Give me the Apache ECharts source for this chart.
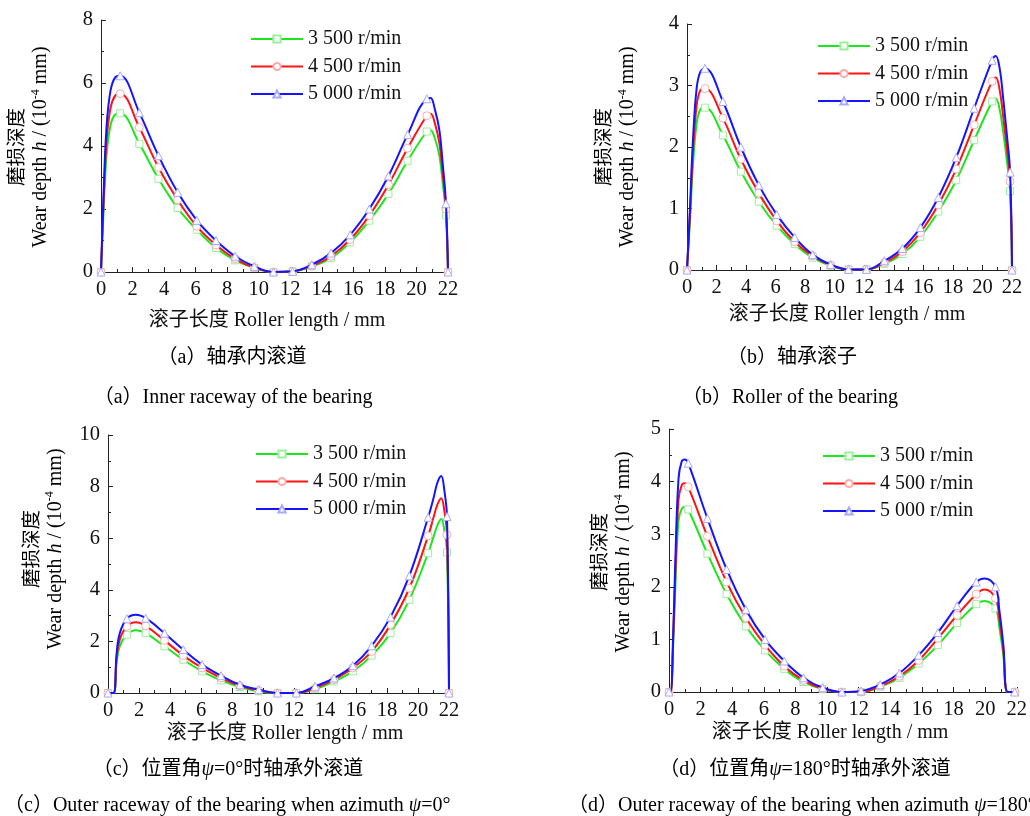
<!DOCTYPE html>
<html>
<head>
<meta charset="utf-8">
<script src="https://cdn.jsdelivr.net/npm/echarts@6/dist/echarts.min.js"></script>
<style>html,body{margin:0;padding:0;background:#fff;}#c{width:1030px;height:816px;}</style>
</head>
<body>
<div id="c"></div>
<script>
// ---- data ----
const seriesNames = ['3 500 r/min', '4 500 r/min', '5 000 r/min'];
const markerX = [0, 1.215, 2.43, 3.645, 4.86, 6.075, 7.29, 8.505, 9.72, 10.935, 12.15, 13.365, 14.58, 15.795, 17.01, 18.225, 19.44, 20.655, 21.87, 22];
const xTicks = [0, 2, 4, 6, 8, 10, 12, 14, 16, 18, 20, 22];

// (a) inner raceway
const xA = [0, 0.15, 0.35, 0.6, 0.9, 1.215, 2.43, 3.645, 4.86, 6.075, 7.29, 8.505, 9.72, 10.935, 12.15, 13.365, 14.58, 15.795, 17.01, 18.225, 19.44, 20.655, 20.9, 21.15, 21.45, 21.66, 21.87, 22];
const a3500 = [0, 1.8, 3.7, 4.65, 5.0, 5.04, 4.07, 2.96, 2.03, 1.34, 0.76, 0.37, 0.13, 0, 0.02, 0.18, 0.44, 0.94, 1.63, 2.48, 3.53, 4.46, 4.5, 4.27, 3.7, 2.85, 1.8, 0];
const a4500 = [0, 2.05, 4.15, 5.2, 5.6, 5.66, 4.59, 3.32, 2.29, 1.45, 0.86, 0.42, 0.14, 0, 0.02, 0.19, 0.5, 1.03, 1.79, 2.77, 3.93, 4.96, 5.02, 4.75, 4.1, 3.15, 2.0, 0];
const a5000 = [0, 2.3, 4.6, 5.75, 6.18, 6.23, 5.06, 3.69, 2.53, 1.64, 1.0, 0.5, 0.18, 0, 0.02, 0.23, 0.6, 1.18, 2.0, 3.05, 4.36, 5.5, 5.52, 5.2, 4.51, 3.46, 2.17, 0];

// (b) roller
const xB = [0, 0.2, 0.4, 0.65, 0.9, 1.215, 2.43, 3.645, 4.86, 6.075, 7.29, 8.505, 9.72, 10.935, 12.15, 13.365, 14.58, 15.795, 17.01, 18.225, 19.44, 20.655, 20.9, 21.15, 21.4, 21.65, 21.87, 22];
const b3500 = [0, 0.8, 1.7, 2.38, 2.61, 2.64, 2.19, 1.6, 1.11, 0.72, 0.42, 0.2, 0.07, 0.01, 0.01, 0.1, 0.26, 0.54, 0.95, 1.46, 2.11, 2.74, 2.79, 2.63, 2.25, 1.78, 1.28, 0];
const b4500 = [0, 0.9, 1.9, 2.67, 2.92, 2.95, 2.47, 1.8, 1.25, 0.8, 0.46, 0.23, 0.08, 0.01, 0.01, 0.12, 0.3, 0.61, 1.06, 1.64, 2.36, 3.07, 3.13, 2.95, 2.5, 1.98, 1.44, 0];
const b5000 = [0, 1.0, 2.1, 2.95, 3.22, 3.28, 2.74, 2.0, 1.38, 0.9, 0.53, 0.25, 0.09, 0.01, 0.01, 0.15, 0.35, 0.69, 1.18, 1.83, 2.63, 3.41, 3.48, 3.3, 2.8, 2.2, 1.59, 0];

// (c) outer raceway, psi = 0
const xC = [0, 0.35, 0.55, 0.75, 1.215, 1.8, 2.43, 3.645, 4.86, 6.075, 7.29, 8.505, 9.72, 10.935, 12.15, 13.365, 14.58, 15.795, 17.01, 18.225, 19.44, 20.655, 21.0, 21.25, 21.5, 21.7, 21.87, 22];
const c3500 = [0, 0, 1.15, 1.8, 2.26, 2.43, 2.32, 1.81, 1.29, 0.84, 0.49, 0.23, 0.06, 0, 0, 0.15, 0.45, 0.84, 1.45, 2.32, 3.61, 5.42, 6.05, 6.5, 6.74, 6.3, 5.45, 0];
const c4500 = [0, 0, 1.3, 2.05, 2.58, 2.74, 2.6, 2.04, 1.45, 0.97, 0.58, 0.28, 0.1, 0, 0, 0.19, 0.52, 0.97, 1.61, 2.65, 4.06, 6.09, 6.8, 7.3, 7.55, 7.05, 6.13, 0];
const c5000 = [0, 0, 1.5, 2.3, 2.88, 3.03, 2.9, 2.32, 1.68, 1.1, 0.67, 0.32, 0.13, 0, 0, 0.26, 0.58, 1.06, 1.83, 2.94, 4.54, 6.81, 7.55, 8.15, 8.41, 7.85, 6.84, 0];

// (d) outer raceway, psi = 180
const xD = [0, 0.1, 0.27, 0.4, 0.6, 0.8, 1.0, 1.215, 2.43, 3.645, 4.86, 6.075, 7.29, 8.505, 9.72, 10.935, 12.15, 13.365, 14.58, 15.795, 17.01, 18.225, 19.44, 19.95, 20.655, 20.9, 21.15, 21.43, 21.87];
const d3500 = [0, 0, 0.93, 2.0, 3.25, 3.48, 3.52, 3.47, 2.63, 1.86, 1.25, 0.79, 0.44, 0.19, 0.06, 0, 0, 0.1, 0.27, 0.54, 0.89, 1.31, 1.67, 1.73, 1.59, 1.22, 0.7, 0, 0];
const d4500 = [0, 0, 1.05, 2.25, 3.65, 3.93, 3.97, 3.9, 2.96, 2.09, 1.41, 0.89, 0.49, 0.22, 0.06, 0, 0, 0.11, 0.3, 0.6, 1.02, 1.46, 1.86, 1.95, 1.78, 1.38, 0.8, 0, 0];
const d5000 = [0, 0, 1.15, 2.5, 4.05, 4.38, 4.42, 4.35, 3.3, 2.33, 1.57, 1.0, 0.59, 0.27, 0.08, 0, 0.02, 0.14, 0.36, 0.7, 1.13, 1.64, 2.09, 2.16, 2.0, 1.55, 0.9, 0, 0];

const yMaxes = [8, 4, 10, 5];
const yIntervals = [2, 1, 2, 1];

// ---- styles ----
const FONT = "'Liberation Serif', 'Times New Roman', 'Noto Sans CJK SC', serif";
const lineColors = ['#1ee61e', '#ff1414', '#1414ff'];
const markColors = ['#9cef9c', '#ffaaaa', '#a8a8ff'];
const symbols = ['rect', 'circle', 'triangle'];
const symSizes = [7, 8, 8];

const grids = [
  {left: 101, top: 20, width: 347, height: 252},
  {left: 687, top: 24, width: 325, height: 246},
  {left: 108, top: 435, width: 341, height: 258},
  {left: 669, top: 429, width: 348, height: 263}
];
const legendPos = [{left: 250, top: 29}, {left: 817, top: 36}, {left: 255, top: 444}, {left: 822, top: 446}];

const panels = [
  {x: xA, ys: [a3500, a4500, a5000]},
  {x: xB, ys: [b3500, b4500, b5000]},
  {x: xC, ys: [c3500, c4500, c5000]},
  {x: xD, ys: [d3500, d4500, d5000]}
];

function build(xs, ys) {
  return xs.map((x, i) => markerX.indexOf(x) >= 0 ? [x, ys[i]] : {value: [x, ys[i]], symbol: 'none'});
}

const axisCol = '#222';
const xAxes = grids.map((g, i) => ({
  type: 'value', gridIndex: i, min: 0, max: 22, interval: 2,
  axisLine: {show: true, lineStyle: {color: axisCol, width: 1}},
  axisTick: {show: true, inside: true, length: 5, lineStyle: {color: axisCol}},
  minorTick: {show: true, splitNumber: 2, length: 3, lineStyle: {color: axisCol}},
  splitLine: {show: false},
  axisLabel: {fontFamily: FONT, fontSize: 20.5, color: '#111', margin: 7,
    formatter: v => xTicks.indexOf(v) >= 0 ? String(v) : ''}
}));
const yAxes = grids.map((g, i) => ({
  type: 'value', gridIndex: i, min: 0, max: yMaxes[i], interval: yIntervals[i],
  axisLine: {show: true, lineStyle: {color: axisCol, width: 1}},
  axisTick: {show: true, inside: true, length: 5, lineStyle: {color: axisCol}},
  minorTick: {show: true, splitNumber: 2, length: 3, lineStyle: {color: axisCol}},
  splitLine: {show: false},
  axisLabel: {fontFamily: FONT, fontSize: 20.5, color: '#111', margin: 8}
}));

const series = [];
panels.forEach((p, pi) => {
  p.ys.forEach((ys, si) => {
    series.push({
      type: 'line', name: seriesNames[si], xAxisIndex: pi, yAxisIndex: pi,
      data: build(p.x, ys), smooth: 0.4, showAllSymbol: true,
      symbol: symbols[si], symbolSize: symSizes[si],
      lineStyle: {color: lineColors[si], width: 2},
      itemStyle: {color: '#fff', borderColor: markColors[si], borderWidth: 1},
      emphasis: {disabled: true}, animation: false, z: 2 + si
    });
  });
});

const legends = legendPos.map(lp => ({
  left: lp.left, top: lp.top, padding: 0, orient: 'vertical', itemWidth: 52, itemHeight: 9, itemGap: 7.5,
  data: seriesNames, selectedMode: false,
  textStyle: {fontFamily: FONT, fontSize: 20, color: '#111', lineHeight: 20}
}));

const yRich = {
  cn: {fontFamily: FONT, fontSize: 19.5, color: '#111', lineHeight: 23},
  n: {fontFamily: FONT, fontSize: 20, color: '#111', lineHeight: 23},
  i: {fontFamily: FONT, fontSize: 20, color: '#111', lineHeight: 23, fontStyle: 'italic'},
  sup: {fontFamily: FONT, fontSize: 12, color: '#111', lineHeight: 23, verticalAlign: 'top'}
};
const yNameText = '{cn|磨损深度}\n{n|Wear depth }{i|h}{n| / (10}{sup|-4}{n| mm)}';
const yNamePos = [[29.5, 147], [616.5, 147], [44, 549], [612.5, 552]];
const xNamePos = [[267, 321], [847, 315], [285, 734], [830, 733]];

const capRich = {
  t: {fontFamily: FONT, fontSize: 20, color: '#222'},
  p: {fontFamily: FONT, fontSize: 20, color: '#222', fontStyle: 'italic'}
};
const captions = [
  {x: 232, y: 358, align: 'center', text: '{t|（a）轴承内滚道}'},
  {x: 233, y: 398, align: 'center', text: '{t|（a）Inner raceway of the bearing}'},
  {x: 792, y: 358, align: 'center', text: '{t|（b）轴承滚子}'},
  {x: 790, y: 398, align: 'center', text: '{t|（b）Roller of the bearing}'},
  {x: 228, y: 770, align: 'center', text: '{t|（c）位置角}{p|ψ}{t|=0°时轴承外滚道}'},
  {x: 4, y: 806, align: 'left', text: '{t|（c）Outer raceway of the bearing when azimuth }{p|ψ}{t|=0°}'},
  {x: 805, y: 770, align: 'center', text: '{t|（d）位置角}{p|ψ}{t|=180°时轴承外滚道}'},
  {x: 568, y: 806, align: 'left', text: '{t|（d）Outer raceway of the bearing when azimuth }{p|ψ}{t|=180°}'}
];

const graphic = [];
yNamePos.forEach(p => graphic.push({
  type: 'text', x: p[0], y: p[1], rotation: Math.PI / 2, silent: true,
  style: {text: yNameText, rich: yRich, align: 'center', verticalAlign: 'middle'}
}));
xNamePos.forEach(p => graphic.push({
  type: 'text', x: p[0], y: p[1], silent: true,
  style: {text: '滚子长度 Roller length / mm', fontFamily: FONT, fontSize: 20, fill: '#111', align: 'center', verticalAlign: 'middle'}
}));
captions.forEach(c => graphic.push({
  type: 'text', x: c.x, y: c.y, silent: true,
  style: {text: c.text, rich: capRich, align: c.align, verticalAlign: 'middle'}
}));

const chart = echarts.init(document.getElementById('c'), null, {renderer: 'canvas'});
chart.setOption({
  backgroundColor: '#fff',
  animation: false,
  grid: grids,
  xAxis: xAxes,
  yAxis: yAxes,
  legend: legends,
  series: series,
  graphic: graphic
});
</script>
</body>
</html>
